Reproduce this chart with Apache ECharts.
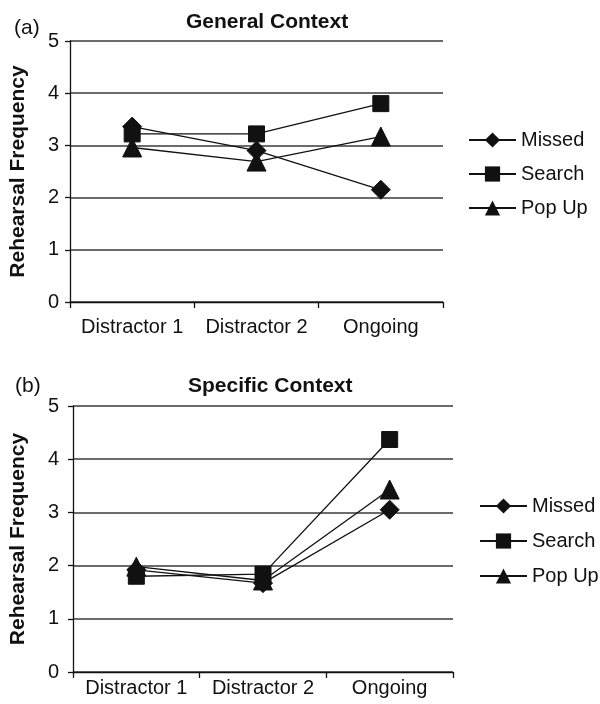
<!DOCTYPE html>
<html>
<head>
<meta charset="utf-8">
<script src="https://cdn.jsdelivr.net/npm/echarts@6/dist/echarts.min.js"></script>
<style>
  html, body { margin: 0; padding: 0; background: #ffffff; }
  #chart { width: 600px; height: 704px; }
</style>
</head>
<body>
<div id="chart"></div>
<script>
  // categories shared by both panels
  const categories = ['Distractor 1', 'Distractor 2', 'Ongoing']
  const yTicks = [0, 1, 2, 3, 4, 5]

  // (a) General Context
  const generalMissed = [3.36, 2.90, 2.15]
  const generalSearch = [3.22, 3.22, 3.80]
  const generalPopUp = [2.96, 2.69, 3.17]

  // (b) Specific Context
  const specificMissed = [1.92, 1.67, 3.05]
  const specificSearch = [1.80, 1.84, 4.37]
  const specificPopUp = [1.98, 1.72, 3.43]

  const seriesNames = ['Missed', 'Search', 'Pop Up']
  const font = '"Liberation Sans", Arial, sans-serif'
  const ink = '#111'

  let myChart = echarts.init(document.getElementById('chart'))

  function xAxisFor(gridIndex, margin) {
    return {
      type: 'category',
      gridIndex: gridIndex,
      data: categories,
      boundaryGap: true,
      axisLine: { lineStyle: { color: ink, width: 1.3 } },
      axisTick: { show: true, length: 6, interval: 0, lineStyle: { color: ink, width: 1.3 } },
      axisLabel: { color: ink, fontSize: 20, fontFamily: font, margin: margin, interval: 0 },
      splitLine: { show: false }
    }
  }

  function yAxisFor(gridIndex, nameGap, margin) {
    return {
      type: 'value',
      gridIndex: gridIndex,
      min: yTicks[0],
      max: yTicks[yTicks.length - 1],
      interval: 1,
      name: 'Rehearsal Frequency',
      nameLocation: 'middle',
      nameRotate: 90,
      nameGap: nameGap,
      nameTextStyle: { color: ink, fontSize: 21, fontWeight: 'bold', fontFamily: font },
      axisLine: { show: true, lineStyle: { color: ink, width: 1.3 } },
      axisTick: { show: true, length: 5, lineStyle: { color: ink, width: 1.3 } },
      axisLabel: { color: ink, fontSize: 20, fontFamily: font, margin: margin },
      splitLine: { show: true, lineStyle: { color: '#3a3a3a', width: 1.6 } }
    }
  }

  function lineSeries(name, data, axisIndex, symbol, size) {
    return {
      name: name,
      type: 'line',
      xAxisIndex: axisIndex,
      yAxisIndex: axisIndex,
      data: data,
      symbol: symbol,
      symbolSize: size,
      showSymbol: true,
      lineStyle: { color: ink, width: 1.3 },
      itemStyle: { color: ink, borderColor: ink },
      emphasis: { disabled: true },
      z: 3
    }
  }

  function legendFor(left, top, gap) {
    return {
      orient: 'vertical',
      left: left,
      top: top,
      padding: 0,
      itemWidth: 47,
      itemHeight: 19,
      itemGap: gap,
      data: seriesNames,
      selectedMode: false,
      textStyle: { color: ink, fontSize: 20, fontFamily: font }
    }
  }

  let option = {
    animation: false,
    backgroundColor: '#ffffff',
    title: [
      { text: 'General Context', left: 186, top: 12, padding: 0,
        textStyle: { color: ink, fontSize: 21, fontWeight: 'bold', fontFamily: font } },
      { text: '(a)', left: 14, top: 18, padding: 0,
        textStyle: { color: ink, fontSize: 21, fontWeight: 'normal', fontFamily: font } },
      { text: 'Specific Context', left: 188, top: 376, padding: 0,
        textStyle: { color: ink, fontSize: 21, fontWeight: 'bold', fontFamily: font } },
      { text: '(b)', left: 15, top: 376, padding: 0,
        textStyle: { color: ink, fontSize: 21, fontWeight: 'normal', fontFamily: font } }
    ],
    legend: [
      legendFor(468, 130, 14),
      legendFor(479, 496, 15)
    ],
    grid: [
      { left: 68, right: 157, top: 41, height: 261, containLabel: false },
      { left: 71, right: 147, top: 406, height: 266, containLabel: false }
    ],
    xAxis: [xAxisFor(0, 15), xAxisFor(1, 6)],
    yAxis: [yAxisFor(0, 41, 11), yAxisFor(1, 44, 14)],
    series: [
      lineSeries('Missed', generalMissed, 0, 'diamond', 19),
      lineSeries('Search', generalSearch, 0, 'rect', 16),
      lineSeries('Pop Up', generalPopUp, 0, 'triangle', 19),
      lineSeries('Missed', specificMissed, 1, 'diamond', 19),
      lineSeries('Search', specificSearch, 1, 'rect', 16),
      lineSeries('Pop Up', specificPopUp, 1, 'triangle', 19)
    ]
  }

  myChart.setOption(option)
</script>
</body>
</html>
